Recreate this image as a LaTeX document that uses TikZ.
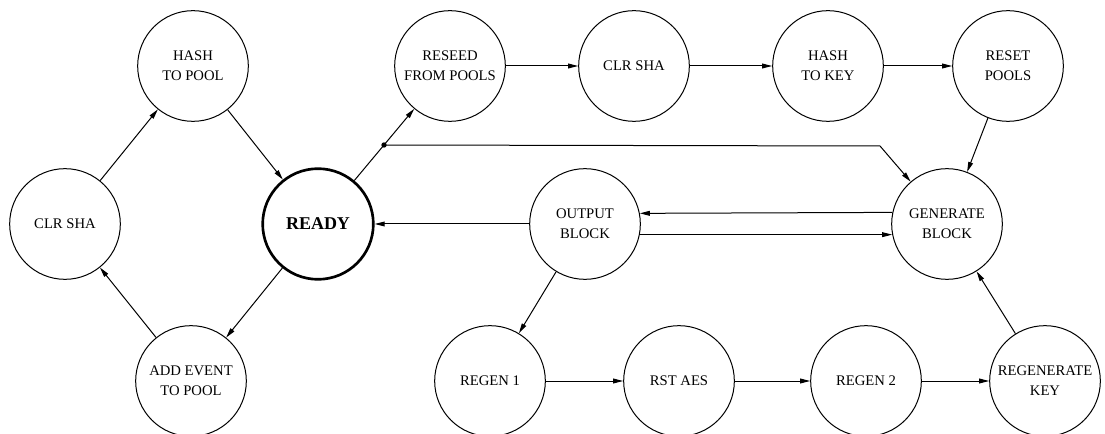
\documentclass[tikz,border=0pt]{standalone}
\usepackage{fontspec}
\setmainfont{Liberation Serif}
\newfontfamily\labelfont{Liberation Serif}
\usetikzlibrary{arrows.meta,calc}
\begin{document}
\begin{tikzpicture}[x=0.75pt,y=-0.75pt,
  state/.style={circle,draw,line width=0.75pt,minimum size=83pt,inner sep=0pt,
    align=center,font=\labelfont\fontsize{11}{15}\selectfont},
  hub/.style={state,line width=2pt,font=\labelfont\fontsize{13.5}{15}\selectfont\bfseries},
  arr/.style={line width=0.75pt,-{Triangle[length=7.5pt,width=3.6pt]}}]
\useasboundingbox (0,0) rectangle (1105,434);
\fill[white] (0,0) rectangle (1105,434);

% entropy accumulation loop
\node[state] (hpool) at (193,66) {HASH\\TO POOL};
\node[state] (clrl)  at (65,224) {CLR SHA};
\node[hub]   (ready) at (318,224) {READY};
\node[state] (add)   at (191,381) {ADD EVENT\\TO POOL};

% reseed chain
\node[state] (reseed) at (450,66)  {RESEED\\FROM POOLS};
\node[state] (clrt)   at (634,66)  {CLR SHA};
\node[state] (hkey)   at (828,66)  {HASH\\TO KEY};
\node[state] (rpools) at (1008,66) {RESET\\POOLS};

% generation
\node[state] (gen) at (947,224) {GENERATE\\BLOCK};
\node[state] (out) at (585,224) {OUTPUT\\BLOCK};

% key regeneration chain
\node[state] (regen1) at (490,381)  {REGEN 1};
\node[state] (rstaes) at (679,381)  {RST AES};
\node[state] (regen2) at (866,381)  {REGEN 2};
\node[state] (regkey) at (1045,381) {REGENERATE\\KEY};

\draw[arr] (clrl) -- (hpool);
\draw[arr] (hpool) -- (ready);
\draw[arr] (ready) -- (add);
\draw[arr] (add) -- (clrl);

\draw[arr] (ready) -- (reseed);
\coordinate (split) at ($(ready.center)!0.5!(reseed.center)$);
\coordinate (bend) at (880,146);
\fill (split) circle (2pt);
\draw[arr] (split) -- (bend) -- (gen);

\draw[arr] (reseed) -- (clrt);
\draw[arr] (clrt) -- (hkey);
\draw[arr] (hkey) -- (rpools);
\draw[arr] (rpools) -- (gen);

\draw[arr] (gen.168.15) -- (out.11.85);
\draw[arr] (out.-11.85) -- (gen.191.85);
\draw[arr] (out) -- (ready);

\draw[arr] (out) -- (regen1);
\draw[arr] (regen1) -- (rstaes);
\draw[arr] (rstaes) -- (regen2);
\draw[arr] (regen2) -- (regkey);
\draw[arr] (regkey) -- (gen);
\end{tikzpicture}
\end{document}
